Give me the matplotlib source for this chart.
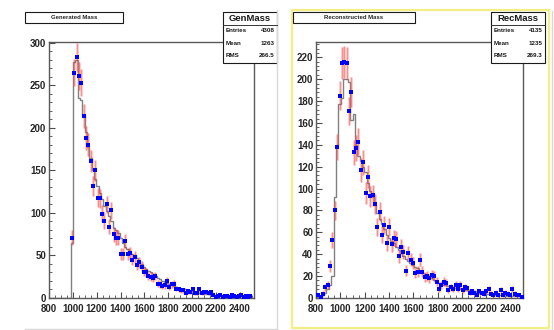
import matplotlib.pyplot as plt
import numpy as np
from matplotlib.patches import Rectangle
from matplotlib.ticker import MultipleLocator

plt.rcParams['font.family'] = ['Liberation Sans', 'DejaVu Sans']

# histogram binning (90 bins, 750-2500)
bin_lo, bin_hi, n_bins = 750, 2500, 90

gen_data = [0] * 12 + [
    71, 265, 283, 261, 253, 214, 188, 180, 161, 132,
    150, 118, 117, 99, 91, 110, 84, 103, 75, 71,
    71, 52, 52, 67, 52, 53, 45, 48, 39, 42,
    37, 31, 30, 26, 25, 24, 26, 17, 16, 14,
    15, 20, 13, 16, 17, 11, 10, 9, 9, 6,
    8, 7, 10, 6, 6, 10, 6, 7, 7, 6,
    7, 4, 1, 2, 3, 1, 2, 2, 1, 3,
    2, 1, 2, 3, 1, 2, 1, 2]
gen_ref = [0] * 12 + [
    65, 278, 280, 235, 233, 215, 195, 178, 165, 150,
    140, 132, 123, 116, 108, 102, 96, 90, 82, 80,
    76, 70, 65, 60, 58, 55, 52, 50, 47, 44,
    40, 37, 34, 32, 30, 28, 26, 24, 22, 20,
    19, 18, 16, 15, 14, 13, 12, 11, 10, 10,
    9, 8, 8, 7, 7, 6, 6, 5, 5, 5,
    4, 4, 4, 3, 3, 3, 3, 2, 2, 2,
    2, 2, 2, 2, 1, 1, 1, 1]

rec_data = [0, 0, 0,
    3, 1, 4, 10, 12, 29, 53, 80, 138, 185,
    215, 216, 215, 171, 188, 133, 137, 143, 117, 124,
    96, 111, 93, 94, 86, 65, 79, 58, 67, 50,
    65, 49, 55, 54, 38, 47, 42, 25, 41, 35,
    32, 23, 24, 35, 24, 19, 20, 18, 21, 20,
    15, 8, 12, 15, 14, 7, 10, 8, 12, 8,
    12, 7, 10, 9, 5, 6, 5, 3, 6, 5,
    4, 6, 8, 4, 3, 5, 3, 7, 3, 5,
    4, 3, 8, 4, 3, 3, 1]
rec_ref = [0, 0, 0,
    1, 2, 3, 5, 8, 12, 20, 92, 140, 177,
    183, 200, 200, 197, 163, 168, 140, 130, 125, 120,
    115, 105, 98, 92, 85, 78, 72, 68, 63, 58,
    55, 52, 50, 47, 44, 41, 38, 36, 34, 32,
    30, 28, 27, 25, 23, 22, 20, 19, 18, 16,
    15, 14, 13, 12, 12, 11, 10, 10, 9, 9,
    8, 8, 7, 7, 6, 6, 6, 5, 5, 5,
    4, 4, 4, 4, 3, 3, 3, 3, 3, 2,
    2, 2, 2, 2, 2, 2, 1]

edges = np.linspace(bin_lo, bin_hi, n_bins + 1)
centers = 0.5 * (edges[:-1] + edges[1:])

fig = plt.figure(figsize=(5.54, 3.30), dpi=100)
W, H = 554, 330


def panel(rect, data, ref, xlim, ylim, ymaj, ymin):
    ax = fig.add_axes(rect)
    data = np.array(data, float)
    ref = np.array(ref, float)
    ax.stairs(ref, edges, color='0.5', lw=1.0, zorder=2)
    m = data > 0
    err = np.sqrt(data[m])
    ax.errorbar(centers[m], data[m], yerr=err, fmt='none', ecolor=(1, 0.35, 0.35, 0.3),
                elinewidth=2.2, zorder=3)
    ax.errorbar(centers[m], data[m], yerr=err, fmt='none', ecolor=(0.8, 0.1, 0.1, 0.45),
                elinewidth=0.5, zorder=3)
    ax.plot(centers[m], data[m], 's', color='#0000ff', ms=3.5, mew=0, zorder=4)
    ax.set_xlim(*xlim)
    ax.set_ylim(*ylim)
    ax.xaxis.set_major_locator(MultipleLocator(200))
    ax.xaxis.set_minor_locator(MultipleLocator(50))
    ax.yaxis.set_major_locator(MultipleLocator(ymaj))
    ax.yaxis.set_minor_locator(MultipleLocator(ymin))
    ax.tick_params(which='both', direction='in', color='0.3', top=False, right=False,
                   labelsize=7, pad=2)
    ax.tick_params(axis='x', which='major', pad=4)
    ax.tick_params(which='major', length=4.5, width=0.8)
    ax.tick_params(which='minor', length=2.2, width=0.6)
    for lab in ax.get_xticklabels() + ax.get_yticklabels():
        lab.set_fontweight('bold')
        lab.set_color('0.15')
    for s in ax.spines.values():
        s.set_color('0.35')
        s.set_linewidth(1.0)
    return ax


panel([49 / W, 32 / H, 205 / W, 256 / H], gen_data, gen_ref, (800, 2520), (0, 301), 50, 10)
panel([316 / W, 32 / H, 207 / W, 256 / H], rec_data, rec_ref, (800, 2500), (0, 234), 20, 4)

# overlay for the ROOT-like boxes and pad borders
ov = fig.add_axes([0, 0, 1, 1], zorder=10)
ov.set_xlim(0, W)
ov.set_ylim(H, 0)
ov.axis('off')
ov.patch.set_alpha(0)

ov.plot([25, 277], [329, 329], color='0.85', lw=1)
ov.plot([277, 277], [10, 329], color='0.85', lw=1)
ov.add_patch(Rectangle((292, 10), 257, 318, fill=False, ec='#f3ee86', lw=1.6))
ov.plot([293, 552], [329.5, 329.5], color='0.85', lw=1)
ov.plot([552, 552], [11, 329.5], color='0.85', lw=1)


def box(x, y, w, h):
    ov.add_patch(Rectangle((x + 1.2, y + 1.2), w, h, fc='0.5', ec='none'))
    ov.add_patch(Rectangle((x, y), w, h, fc='white', ec='0.1', lw=0.8))


def title_box(x, w, text):
    box(x, 12, w, 11)
    ov.text(x + w / 2, 17.8, text, ha='center', va='center', fontsize=4.3,
            fontweight='bold', color='0.15')


def stats_box(x, name, entries, mean, rms):
    w = 54
    box(x, 12, w, 51)
    ov.plot([x, x + w], [24.5, 24.5], color='0.2', lw=0.7)
    ov.text(x + w / 2, 18.3, name, ha='center', va='center', fontsize=6.8,
            fontweight='bold', color='0.1')
    for yy, lab, val in [(30.8, 'Entries', entries), (43.3, 'Mean', mean), (55.8, 'RMS', rms)]:
        ov.text(x + 3, yy, lab, ha='left', va='center', fontsize=4.5, fontweight='bold', color='0.1')
        ov.text(x + w - 2, yy, val, ha='right', va='center', fontsize=4.5, fontweight='bold', color='0.1')


title_box(25, 98, 'Generated Mass')
title_box(293, 122, 'Reconstructed Mass')
stats_box(223, 'GenMass', '4308', '1263', '266.5')
stats_box(491, 'RecMass', '4135', '1235', '269.3')

fig.savefig('out.png', dpi=100)
